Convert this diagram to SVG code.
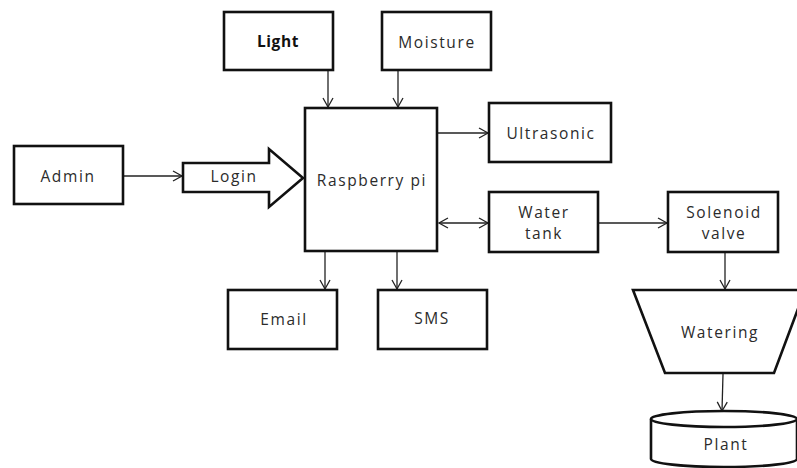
<svg xmlns="http://www.w3.org/2000/svg" width="797" height="468" viewBox="0 0 797 468">
<defs>
<style>
.box{fill:#fff;stroke:#111;stroke-width:2.6}
.ln{fill:none;stroke:#222;stroke-width:1.3}
.t{font-family:"Open Sans","DejaVu Sans",sans-serif;font-size:15.5px;fill:#2b2b2b;text-anchor:middle;dominant-baseline:central;letter-spacing:1.6px}
.b{font-weight:bold;letter-spacing:0.6px;fill:#111}
</style>
<marker id="ah" markerWidth="12" markerHeight="12" refX="10" refY="6" orient="auto-start-reverse" markerUnits="userSpaceOnUse">
<path d="M1,1 L10,6 L1,11" fill="none" stroke="#222" stroke-width="1.3"/>
</marker>
</defs>
<rect width="797" height="468" fill="#fff"/>

<g id="connectors">
<line class="ln" x1="123" y1="176" x2="182" y2="176" marker-end="url(#ah)"/>
<line class="ln" x1="328" y1="71" x2="328" y2="107" marker-end="url(#ah)"/>
<line class="ln" x1="398" y1="71" x2="398" y2="107" marker-end="url(#ah)"/>
<line class="ln" x1="433" y1="133" x2="488" y2="133" marker-end="url(#ah)"/>
<line class="ln" x1="439" y1="223" x2="488" y2="223" marker-start="url(#ah)" marker-end="url(#ah)"/>
<line class="ln" x1="598" y1="223" x2="667" y2="223" marker-end="url(#ah)"/>
<line class="ln" x1="325" y1="252" x2="325" y2="289" marker-end="url(#ah)"/>
<line class="ln" x1="397" y1="252" x2="397" y2="289" marker-end="url(#ah)"/>
<line class="ln" x1="725" y1="252" x2="725" y2="289" marker-end="url(#ah)"/>
<line class="ln" x1="723" y1="374" x2="722" y2="411" marker-end="url(#ah)"/>
</g>

<g id="light"><rect class="box" x="224" y="12" width="109" height="58"/><text class="t b" x="278" y="41">Light</text></g>
<g id="moisture"><rect class="box" x="382" y="12" width="109" height="58"/><text class="t" x="437" y="42">Moisture</text></g>
<g id="admin"><rect class="box" x="14" y="146" width="109" height="58"/><text class="t" x="68" y="176">Admin</text></g>
<g id="login"><polygon class="box" points="183,163 269,163 269,149 303,178 269,207 269,192 183,192"/><text class="t" x="234" y="176">Login</text></g>
<g id="raspberry"><rect class="box" x="305" y="108" width="132" height="143"/><text class="t" x="372" y="180">Raspberry pi</text></g>
<g id="ultrasonic"><rect class="box" x="489" y="103" width="122" height="59"/><text class="t" x="551" y="133">Ultrasonic</text></g>
<g id="watertank"><rect class="box" x="489" y="192" width="109" height="60"/><text class="t" x="544" y="212">Water</text><text class="t" x="544" y="233">tank</text></g>
<g id="solenoid"><rect class="box" x="668" y="192" width="110" height="60"/><text class="t" x="724" y="212">Solenoid</text><text class="t" x="724" y="233">valve</text></g>
<g id="email"><rect class="box" x="228" y="290" width="109" height="59"/><text class="t" x="284" y="319">Email</text></g>
<g id="sms"><rect class="box" x="378" y="290" width="109" height="59"/><text class="t" x="432" y="318">SMS</text></g>
<g id="watering"><polygon class="box" points="633,290 805,290 774,373 665,373"/><text class="t" x="720" y="332">Watering</text></g>
<g id="plant">
<path class="box" d="M651,419 L651,459 A73,8 0 0 0 797,459 L797,419"/>
<ellipse class="box" cx="724" cy="419" rx="73" ry="8"/>
<text class="t" x="726" y="444">Plant</text>
</g>
</svg>
